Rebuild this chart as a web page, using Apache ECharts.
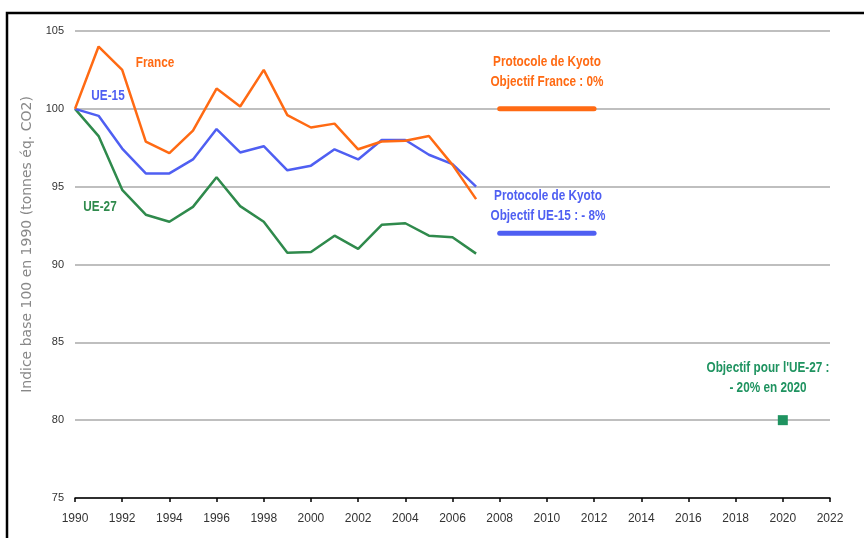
<!DOCTYPE html>
<html><head><meta charset="utf-8">
<script src="https://cdn.jsdelivr.net/npm/echarts@6/dist/echarts.min.js"></script>
<style>html,body{margin:0;padding:0;background:#fff}#c{width:864px;height:538px}</style>
</head><body><div id="c"></div>
<script>
const years = [1990,1991,1992,1993,1994,1995,1996,1997,1998,1999,2000,2001,2002,2003,2004,2005,2006,2007];
const france = [100,104.0,102.5,97.9,97.15,98.6,101.3,100.15,102.5,99.6,98.8,99.05,97.4,97.9,97.95,98.25,96.4,94.2];
const ue15 = [100,99.55,97.45,95.85,95.85,96.75,98.7,97.2,97.6,96.05,96.35,97.4,96.75,98.0,98.0,97.05,96.45,95.0];
const ue27 = [100,98.25,94.8,93.2,92.75,93.7,95.6,93.75,92.75,90.75,90.8,91.85,91.0,92.55,92.65,91.85,91.75,90.7];
const objFranceYears = [2008,2012], objFranceValue = 100;
const objUE15Years = [2008,2012], objUE15Value = 92;
const objUE27Year = 2020, objUE27Value = 80;
const yTicks = [75,80,85,90,95,100,105];
const xTicks = [1990,1992,1994,1996,1998,2000,2002,2004,2006,2008,2010,2012,2014,2016,2018,2020,2022];

const ORANGE = '#ff6a13', BLUE = '#4f5ff2', GREEN = '#2f8a4c', GREEN2 = '#1f9360';
const FONT = '"Liberation Sans",Arial,sans-serif';
const zip = (xs, ys) => xs.map((x,i)=>[x,ys[i]]);

const chart = echarts.init(document.getElementById('c'));
const txt = (x,y,text,color) => ({type:'text', x:x, y:y, scaleX:0.84, style:{text:text, fill:color, font:'bold 14px '+FONT, textAlign:'center', textVerticalAlign:'middle', lineHeight:20}});
chart.setOption({
  animation:false,
  grid:{left:75,right:34,top:31,bottom:40},
  xAxis:{type:'value',min:xTicks[0],max:xTicks[xTicks.length-1],interval:2,
    axisLine:{lineStyle:{color:'#000',width:1.5}},
    axisTick:{show:true,length:4,lineStyle:{color:'#000',width:1.5}},
    axisLabel:{color:'#333',fontSize:12,fontFamily:FONT,margin:15,formatter:v=>String(v)},
    splitLine:{show:false}},
  yAxis:{type:'value',min:yTicks[0],max:yTicks[yTicks.length-1],interval:5,
    name:'Indice base 100 en 1990 (tonnes éq. CO2)',nameLocation:'middle',nameGap:40,
    nameTextStyle:{color:'#888',fontSize:14,fontFamily:'"DejaVu Sans",sans-serif',padding:[0,0,0,40]},
    axisLine:{show:false},axisTick:{show:false},
    axisLabel:{color:'#333',fontSize:11,fontFamily:FONT,margin:11},
    splitLine:{lineStyle:{color:'#aaa',width:1.5}}},
  series:[
    {type:'line',data:zip(years,france),symbol:'none',lineStyle:{color:ORANGE,width:2.5},z:4},
    {type:'line',data:zip(years,ue15),symbol:'none',lineStyle:{color:BLUE,width:2.5},z:3},
    {type:'line',data:zip(years,ue27),symbol:'none',lineStyle:{color:GREEN,width:2.5},z:2},
    {type:'line',data:objFranceYears.map(x=>[x,objFranceValue]),symbol:'none',lineStyle:{color:ORANGE,width:5,cap:'round'}},
    {type:'line',data:objUE15Years.map(x=>[x,objUE15Value]),symbol:'none',lineStyle:{color:BLUE,width:5,cap:'round'}},
    {type:'scatter',data:[[objUE27Year,objUE27Value]],symbol:'rect',symbolSize:10,itemStyle:{color:GREEN2,opacity:1}}
  ],
  graphic:[
    {type:'rect',shape:{x:7,y:13,width:900,height:600},style:{fill:'none',stroke:'#000',lineWidth:2.5},silent:true},
    txt(155,63,'France',ORANGE),
    txt(108,96,'UE-15',BLUE),
    txt(100,207,'UE-27',GREEN),
    txt(547,72,'Protocole de Kyoto\nObjectif France : 0%',ORANGE),
    txt(548,206,'Protocole de Kyoto\nObjectif UE-15 : - 8%',BLUE),
    txt(768,378,"Objectif pour l'UE-27 :\n- 20% en 2020",GREEN2)
  ]
});
</script></body></html>
